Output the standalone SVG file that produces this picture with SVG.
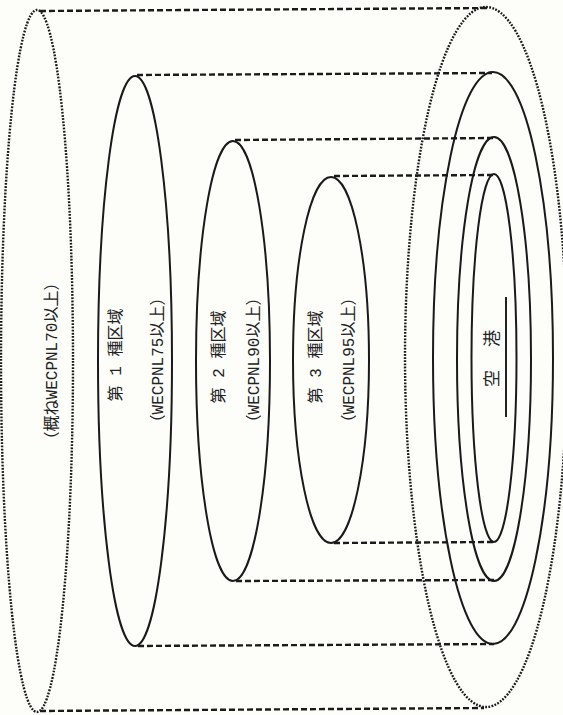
<svg xmlns="http://www.w3.org/2000/svg" width="563" height="715" viewBox="0 0 563 715">
<style>
.dot{fill:none;stroke:#1a1a1a;stroke-width:2.4;stroke-dasharray:1.8 1.4}
.sol{fill:none;stroke:#1a1a1a;stroke-width:2}
.dash{fill:none;stroke:#1a1a1a;stroke-width:2.4;stroke-dasharray:6 3}
text{font-family:"Liberation Mono","Noto Sans CJK JP",monospace;font-size:16px;fill:#222;text-anchor:middle;dominant-baseline:central}
</style>
<rect width="563" height="715" fill="#fdfdfa"/>
<g id="connectors">
<line class="dash" x1="40" y1="11" x2="490" y2="8"/>
<line class="dash" x1="137" y1="75" x2="492" y2="73"/>
<line class="dash" x1="235" y1="140" x2="493" y2="138"/>
<line class="dash" x1="334" y1="176" x2="493" y2="175"/>
<line class="dash" x1="334" y1="543" x2="494" y2="542"/>
<line class="dash" x1="236" y1="581" x2="494" y2="580"/>
<line class="dash" x1="138" y1="646" x2="494" y2="644"/>
<line class="dash" x1="40" y1="711" x2="484" y2="708"/>
</g>
<g id="outer-zone">
<ellipse class="dot" cx="37" cy="361" rx="36" ry="351"/>
<text transform="translate(53,361) rotate(-90)">（概ねWECPNL70以上）</text>
</g>
<g id="zone-1">
<ellipse class="sol" cx="135" cy="361" rx="37" ry="285"/>
<text transform="translate(117,355) rotate(-90)">第 1 種区域</text>
<text transform="translate(159,360) rotate(-90)">（WECPNL75以上）</text>
</g>
<g id="zone-2">
<ellipse class="sol" cx="233" cy="361" rx="37" ry="220"/>
<text transform="translate(220,357) rotate(-90)">第 2 種区域</text>
<text transform="translate(255,360) rotate(-90)">（WECPNL90以上）</text>
</g>
<g id="zone-3">
<ellipse class="sol" cx="331" cy="360" rx="38" ry="183"/>
<text transform="translate(317,357) rotate(-90)">第 3 種区域</text>
<text transform="translate(350,360) rotate(-90)">（WECPNL95以上）</text>
</g>
<g id="airport-outer">
<ellipse class="dot" cx="486" cy="357" rx="81" ry="350"/>
</g>
<g id="airport-1">
<ellipse class="sol" cx="493" cy="358" rx="60" ry="286"/>
</g>
<g id="airport-2">
<ellipse class="sol" cx="494" cy="359" rx="37" ry="222"/>
</g>
<g id="airport">
<ellipse class="sol" cx="494" cy="358" rx="22.5" ry="184"/>
<text transform="translate(493,357) rotate(-90)" style="font-size:17px;letter-spacing:3px">空　港</text>
<line x1="506" y1="297" x2="506" y2="417" stroke="#222" stroke-width="2"/>
</g>
</svg>
